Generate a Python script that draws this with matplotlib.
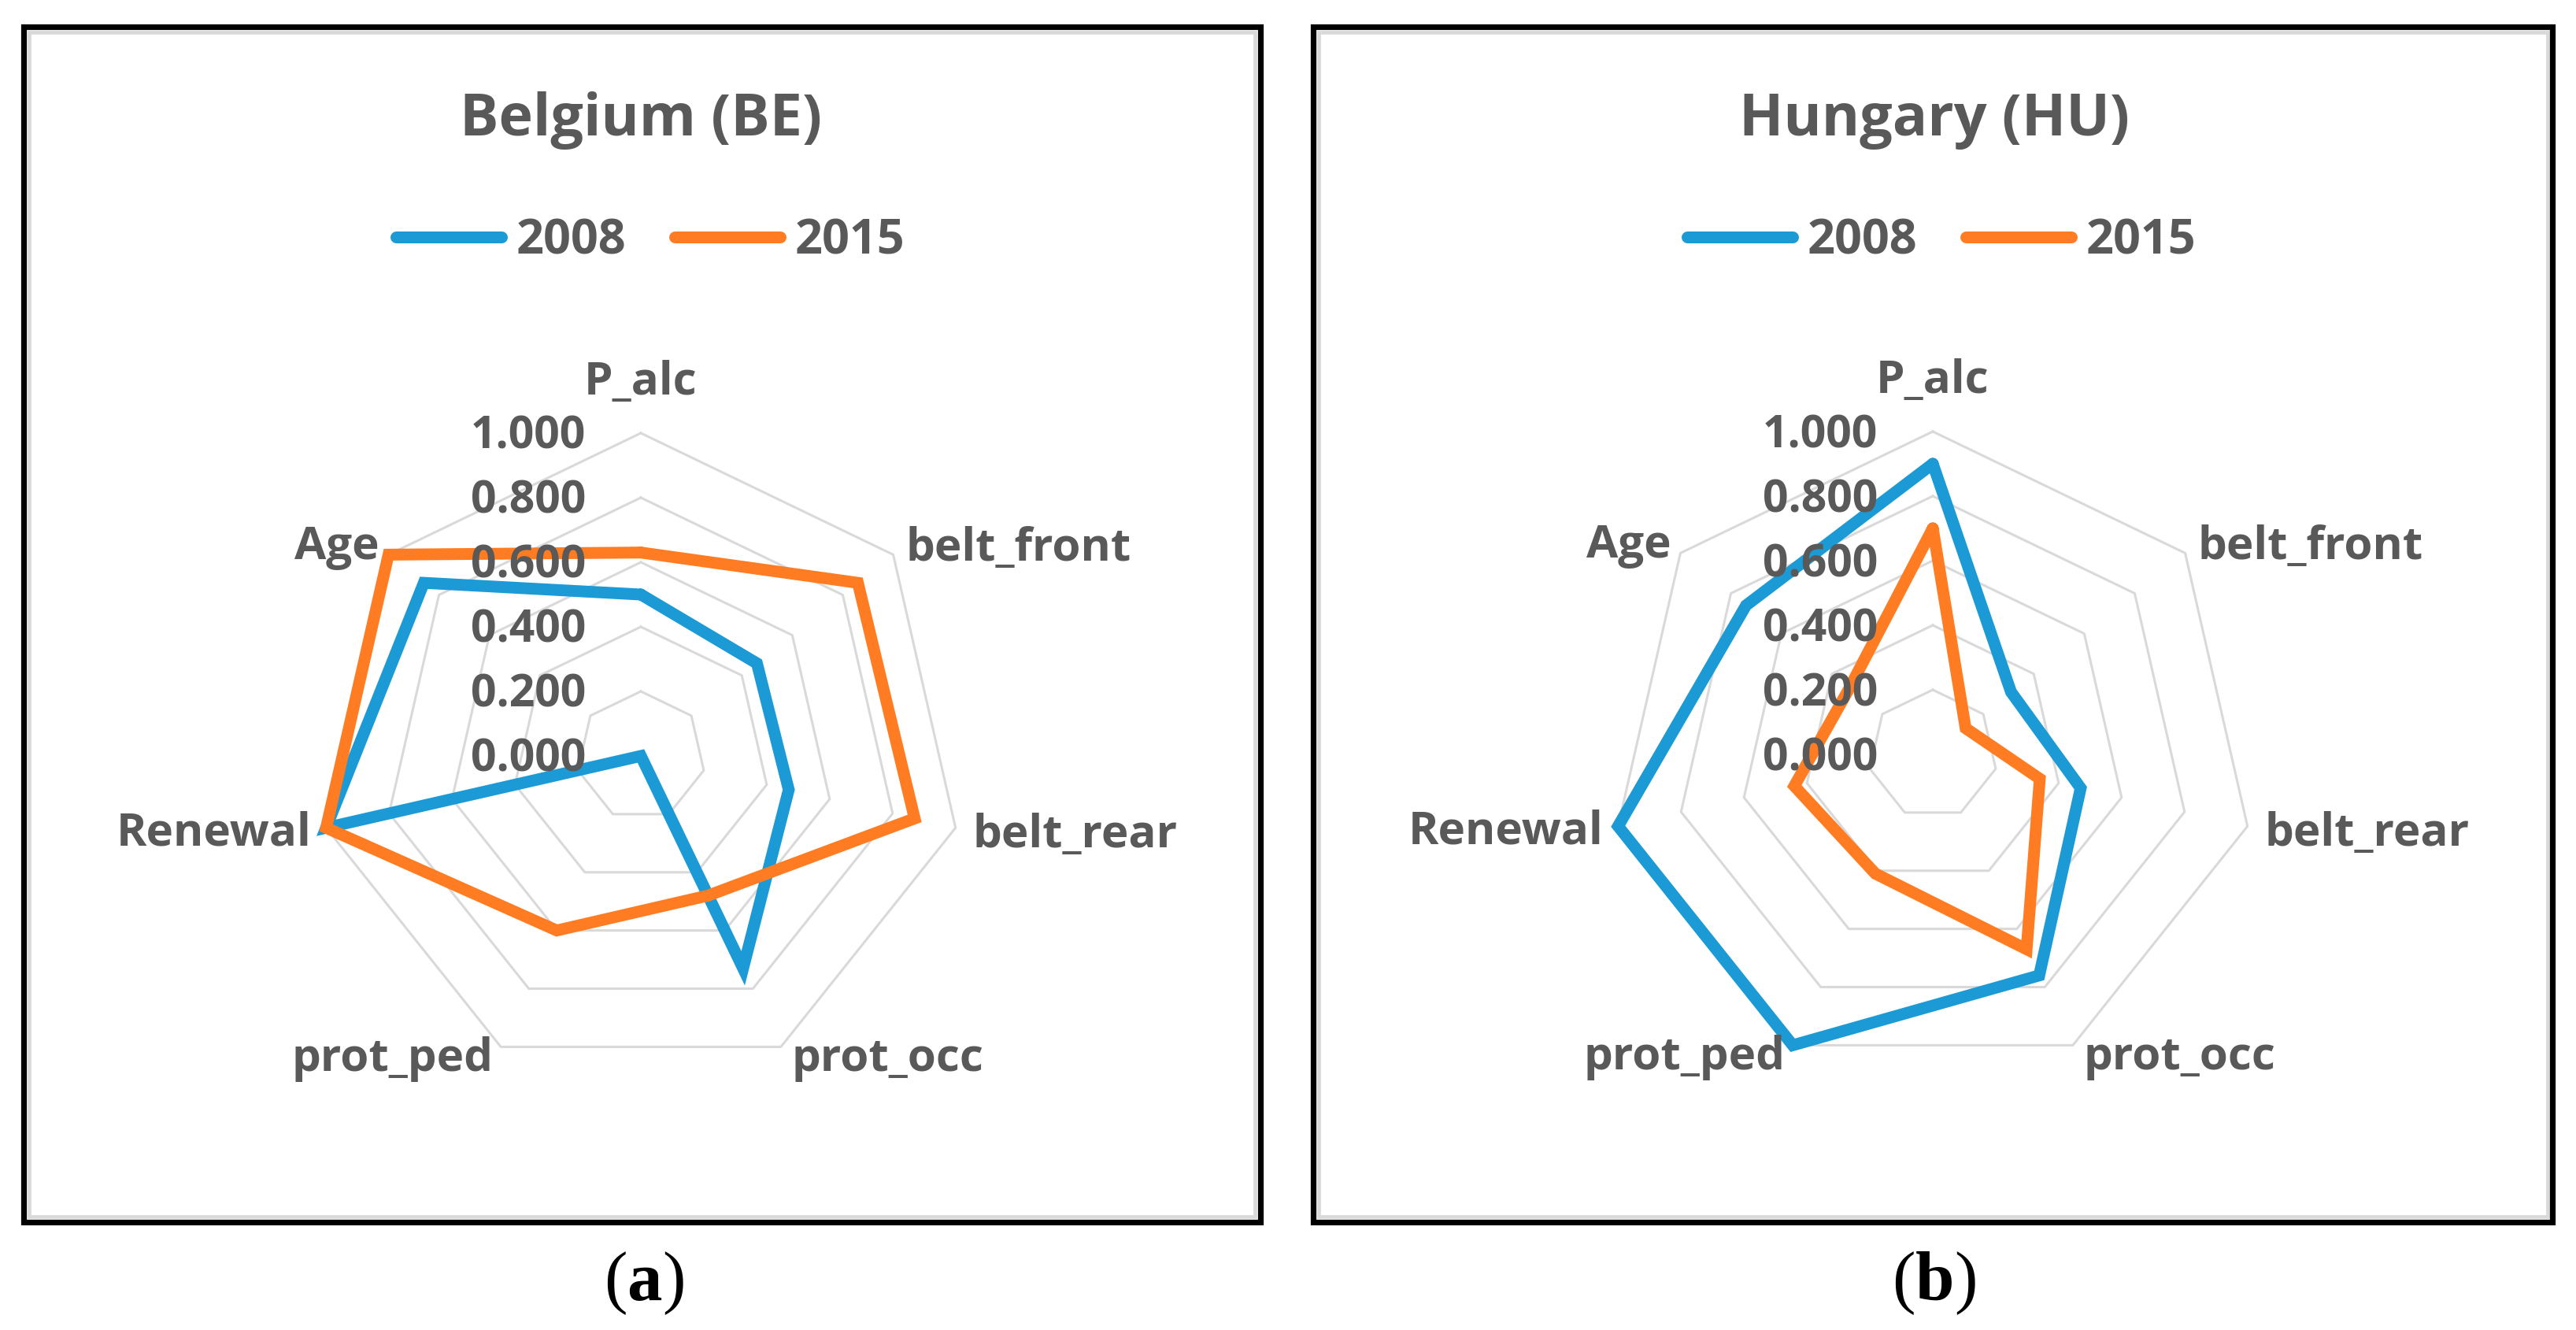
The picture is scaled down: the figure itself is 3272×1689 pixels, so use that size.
import numpy as np
import matplotlib
matplotlib.use("Agg")
import matplotlib.pyplot as plt
from matplotlib.patches import Rectangle
from matplotlib.transforms import offset_copy
from matplotlib.lines import Line2D

# ---------------- data ----------------
categories = ['P_alc', 'belt_front', 'belt_rear', 'prot_occ', 'prot_ped', 'Renewal', 'Age']
years = ['2008', '2015']
be_2008 = [0.50, 0.46, 0.47, 0.73, 0.00, 1.00, 0.86]
be_2015 = [0.63, 0.86, 0.87, 0.48, 0.60, 1.00, 1.00]
hu_2008 = [0.90, 0.31, 0.47, 0.76, 1.00, 1.00, 0.74]
hu_2015 = [0.70, 0.13, 0.34, 0.67, 0.41, 0.44, 0.33]
ring_levels = [0.2, 0.4, 0.6, 0.8, 1.0]
tick_values = [0.0, 0.2, 0.4, 0.6, 0.8, 1.0]
tick_labels = ['0.000', '0.200', '0.400', '0.600', '0.800', '1.000']
titles = ['Belgium (BE)', 'Hungary (HU)']
captions = ['a', 'b']

# ---------------- style ----------------
W, H = 3273, 1689
DPI = 100
plt.rcParams['mathtext.fontset'] = 'custom'
plt.rcParams['mathtext.rm'] = 'Liberation Serif'
plt.rcParams['mathtext.bf'] = 'Liberation Serif:bold'
FONT = 'Open Sans'
TXT = '#595959'
GRID = '#d9d9d9'
BLUE = '#1b9ad6'
ORANGE = '#ff7c22'
LW = 10.8

fig = plt.figure(figsize=(W / DPI, H / DPI), dpi=DPI)
fig.patch.set_facecolor('white')


def fx(x):
    return x / W


def fy(y):
    return 1 - y / H


# panel boxes (outer black + inner grey)
boxes = [
    dict(black=(30.5, 33.5, 1601.5, 1551.5), grey=(37.5, 40.5, 1594.5, 1544.5)),
    dict(black=(1668.0, 33.5, 3242.5, 1551.5), grey=(1675.5, 40.5, 3235.5, 1544.5)),
]
for b in boxes:
    for key, col, lw in (('grey', GRID, 3.4), ('black', 'black', 5.2)):
        x0, y0, x1, y1 = b[key]
        fig.patches.append(Rectangle((fx(x0), fy(y1)), fx(x1) - fx(x0), fy(y0) - fy(y1),
                                     transform=fig.transFigure, fill=False,
                                     edgecolor=col, linewidth=lw, zorder=0))

panels = [
    dict(cx=814, cy=960, R=410, data=[be_2008, be_2015], title=titles[0],
         title_x=814, leg_x=826, cap_x=818),
    dict(cx=2455, cy=958, R=410, data=[hu_2008, hu_2015], title=titles[1],
         title_x=2457, leg_x=2466, cap_x=2456),
]

n = len(categories)
theta = np.arange(n) * 2 * np.pi / n
theta_c = np.append(theta, theta[0])

# label offsets (px) relative to the 1.0 vertex: dx, baseline dy (down positive), ha
label_off = [
    (0, -49, 'center'),
    (16, 8, 'left'),
    (22, 25, 'left'),
    (14, 31, 'left'),
    (-10, 31, 'right'),
    (-19, 22, 'right'),
    (-12, 6, 'right'),
]

for p in panels:
    cx, cy, R = p['cx'], p['cy'], p['R']
    ax = fig.add_axes([fx(cx - R), fy(cy + R), 2 * R / W, 2 * R / H], projection='polar')
    ax.set_theta_zero_location('N')
    ax.set_theta_direction(-1)
    ax.set_ylim(0, 1)
    ax.axis('off')

    for r in ring_levels:
        ax.plot(theta_c, [r] * (n + 1), color=GRID, lw=2.2, clip_on=False, zorder=1)

    for vals, col in zip(p['data'], [BLUE, ORANGE]):
        v = list(vals) + [vals[0]]
        ax.plot(theta_c, v, color=col, lw=LW, clip_on=False, zorder=3,
                solid_joinstyle='miter', solid_capstyle='round')

    # radial tick labels along the first axis
    tr = offset_copy(ax.transData, fig=fig, x=-70, y=-20, units='dots')
    for tv, tl in zip(tick_values, tick_labels):
        ax.text(0, tv, tl, transform=tr, ha='right', va='baseline', fontsize=41,
                fontfamily=FONT, fontweight='bold', color=TXT, zorder=4)

    # category labels
    for th, cat, (dx, dy, ha) in zip(theta, categories, label_off):
        trc = offset_copy(ax.transData, fig=fig, x=dx, y=-dy, units='dots')
        ax.text(th, 1.0, cat, transform=trc, ha=ha, va='baseline', fontsize=42,
                fontfamily=FONT, fontweight='bold', color=TXT)

    # title
    fig.text(fx(p['title_x']), fy(172), p['title'], ha='center', va='baseline',
             fontsize=53, fontfamily=FONT, fontweight='bold', color=TXT)

    # legend
    handles = [Line2D([0], [0], color=c, lw=LW, solid_capstyle='round') for c in (BLUE, ORANGE)]
    fig.legend(handles, years, loc='center', bbox_to_anchor=(fx(p['leg_x']), fy(307)),
               ncol=2, frameon=False, handlelength=2.2, handletextpad=0.3,
               columnspacing=1.0, labelcolor=TXT,
               prop=dict(family=FONT, weight='bold', size=44))

# captions
for p, c in zip(panels, captions):
    fig.text(fx(p['cap_x']), fy(1630), r'($\mathbf{%s}$)' % c, ha='center', va='center',
             fontsize=64, fontfamily='Liberation Serif', color='black')

fig.savefig('out.png', dpi=DPI, facecolor='white')
